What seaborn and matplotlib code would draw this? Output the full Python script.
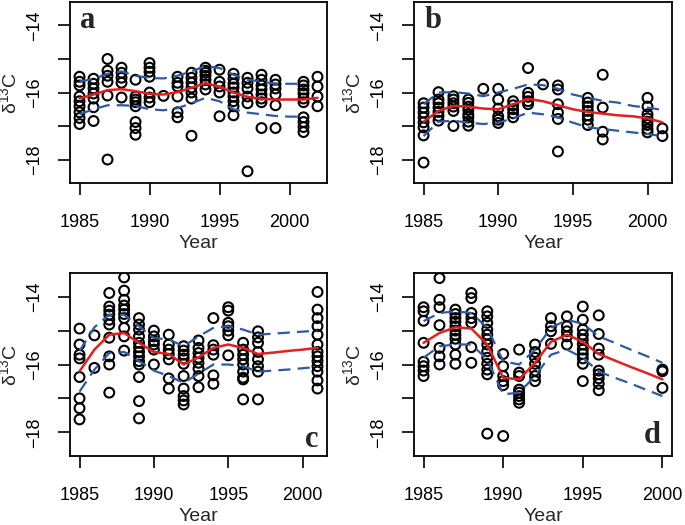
import matplotlib
matplotlib.use("Agg")
import matplotlib.pyplot as plt
import seaborn as sns
import pandas as pd

# ---- panel a : d13C readings per sampling year ----
a_years = [1985, 1986, 1987, 1988, 1989, 1990, 1991, 1992, 1993, 1994,
           1995, 1996, 1997, 1998, 1999, 2001, 2002]
a_vals = [
    [-15.53, -15.68, -15.79, -16.12, -16.26, -16.41, -16.59, -16.76, -16.94],
    [-15.59, -15.74, -15.88, -16.03, -16.18, -16.44, -16.85],
    [-15.0, -15.35, -15.5, -15.68, -16.09, -18.0],
    [-15.26, -15.41, -15.56, -15.71, -16.15],
    [-15.62, -16.12, -16.21, -16.29, -16.41, -16.88, -17.06, -17.26],
    [-15.12, -15.26, -15.38, -15.53, -16.0, -16.15, -16.29],
    [-16.1],
    [-15.53, -15.71, -15.82, -16.12, -16.59, -16.74],
    [-15.41, -15.56, -15.71, -15.85, -16.0, -16.18, -17.29],
    [-15.26, -15.35, -15.41, -15.5, -15.62, -15.76, -15.91],
    [-15.32, -15.68, -15.82, -16.0, -16.71],
    [-15.44, -15.59, -15.74, -15.85, -16.0, -16.12, -16.26, -16.41, -16.68],
    [-15.56, -15.71, -15.88, -16.12, -16.32, -18.35],
    [-15.47, -15.62, -15.79, -15.91, -16.06, -16.18, -16.29, -17.06],
    [-15.62, -15.76, -15.88, -16.06, -16.38, -17.06],
    [-15.68, -15.79, -15.91, -16.03, -16.18, -16.29, -16.74, -16.88, -17.03, -17.18],
    [-15.53, -15.82, -16.12, -16.41],
]
a_fit_years = list(range(1985, 2003))
a_fit = [-16.18, -16.06, -15.93, -15.9, -15.96, -16.04, -16.06, -15.99, -15.86,
         -15.72, -15.83, -16.0, -16.13, -16.19, -16.21, -16.21, -16.21, -16.16]
a_band_years = list(range(1985, 2002))
a_upper = [-15.67, -15.6, -15.44, -15.37, -15.5, -15.57, -15.58, -15.5, -15.37,
           -15.21, -15.27, -15.47, -15.62, -15.67, -15.74, -15.74, -15.74]
a_lower = [-16.65, -16.5, -16.38, -16.38, -16.4, -16.5, -16.53, -16.47, -16.32,
           -16.16, -16.26, -16.5, -16.6, -16.65, -16.7, -16.72, -16.72]

# ---- panel b ----
b_years = [1985, 1986, 1987, 1988, 1989, 1990, 1991, 1992, 1993, 1994,
           1996, 1997, 2000, 2001]
b_vals = [
    [-16.32, -16.45, -16.6, -16.74, -16.89, -17.04, -17.28, -18.09],
    [-15.99, -16.21, -16.32, -16.45, -16.58, -16.7, -16.84],
    [-16.11, -16.21, -16.32, -16.42, -16.55, -17.0],
    [-16.21, -16.31, -16.42, -16.52, -16.65, -16.74, -16.87, -16.99],
    [-15.89],
    [-15.89, -16.21, -16.48, -16.71, -16.81, -16.91],
    [-16.26, -16.38, -16.5, -16.62, -16.74],
    [-15.27, -16.01, -16.13, -16.26, -16.35],
    [-15.76],
    [-15.79, -15.91, -16.35, -16.6, -16.79, -17.76],
    [-16.16, -16.3, -16.42, -16.55, -16.68, -16.81, -16.97],
    [-15.47, -16.45, -17.17, -17.4],
    [-16.16, -16.42, -16.65, -16.77, -16.87, -16.97, -17.09, -17.19],
    [-17.07, -17.3],
]
b_fit_years = list(range(1985, 2002))
b_fit = [-16.87, -16.55, -16.4, -16.42, -16.48, -16.5, -16.35, -16.19, -16.26,
         -16.38, -16.5, -16.58, -16.63, -16.68, -16.71, -16.77, -16.89]
b_upper = [-16.35, -16.0, -15.99, -16.03, -16.11, -16.0, -15.89, -15.76, -15.78,
           -15.89, -16.06, -16.16, -16.25, -16.3, -16.4, -16.45, -16.52]
b_lower = [-17.3, -16.87, -16.84, -16.9, -16.94, -16.9, -16.77, -16.6, -16.65,
           -16.74, -16.9, -17.04, -17.09, -17.14, -17.19, -17.24, -17.3]

# ---- panel c ----
c_years = [1985, 1986, 1987, 1988, 1989, 1990, 1991, 1992, 1993, 1994,
           1995, 1996, 1997, 2001]
c_vals = [
    [-14.94, -15.41, -15.71, -15.82, -16.37, -17.0, -17.29, -17.62],
    [-15.14, -16.1],
    [-13.89, -14.29, -14.41, -14.53, -14.68, -14.82, -15.21, -15.76, -16.0, -16.83],
    [-13.43, -13.82, -14.09, -14.26, -14.38, -14.51, -14.63, -14.92, -15.17, -15.59],
    [-14.63, -14.82, -14.97, -15.17, -15.36, -15.49, -15.63, -15.76, -15.9, -16.0,
     -16.37, -17.08, -17.59],
    [-15.0, -15.17, -15.31, -15.41, -15.56, -16.0],
    [-15.12, -15.41, -15.56, -15.69, -15.85, -16.41, -16.71],
    [-15.46, -15.59, -15.71, -15.82, -15.98, -16.34, -16.71, -16.93, -17.06, -17.18],
    [-15.29, -15.51, -15.66, -15.8, -15.95, -16.12, -16.34, -16.67],
    [-14.63, -15.43, -15.56, -15.71, -16.32, -16.57],
    [-14.31, -14.41, -14.77, -14.87, -15.0, -15.14, -15.73],
    [-15.36, -15.56, -15.71, -15.85, -16.0, -16.21, -16.39, -16.44, -17.03],
    [-15.02, -15.2, -15.36, -15.63, -15.85, -16.05, -16.21, -17.03],
    [-13.86, -14.38, -14.63, -14.87, -15.12, -15.41, -15.63, -15.76, -15.9, -16.05,
     -16.21, -16.47, -16.71],
]
c_fit_years = list(range(1985, 2002))
c_fit = [-16.2, -15.56, -15.12, -15.07, -15.36, -15.63, -15.69, -16.0, -15.79,
         -15.51, -15.41, -15.51, -15.69, -15.65, -15.6, -15.56, -15.51]
c_upper = [-15.6, -14.9, -14.53, -14.53, -14.87, -15.22, -15.26, -15.46, -15.17,
           -14.92, -14.87, -14.97, -15.12, -15.09, -15.06, -15.03, -15.0]
c_lower = [-16.8, -16.15, -15.66, -15.63, -15.9, -16.18, -16.34, -16.54, -16.27,
           -16.0, -16.0, -16.05, -16.21, -16.18, -16.15, -16.11, -16.07]

# ---- panel d ----
d_years = [1985, 1986, 1987, 1988, 1989, 1990, 1991, 1992, 1993, 1994,
           1995, 1996, 2000]
d_vals = [
    [-14.31, -14.43, -14.71, -15.36, -15.92, -16.05, -16.18, -16.34],
    [-13.45, -14.09, -14.31, -14.84, -15.51, -15.76, -16.0],
    [-14.38, -14.51, -14.63, -14.74, -14.87, -15.0, -15.12, -15.24, -15.41, -15.71, -15.98],
    [-13.89, -14.04, -14.48, -14.63, -14.77, -15.49, -15.95],
    [-14.43, -14.58, -14.77, -14.97, -15.12, -15.26, -15.41, -15.61, -15.8, -15.98,
     -16.15, -16.29, -18.04],
    [-15.69, -16.05, -16.34, -16.49, -16.61, -18.11],
    [-15.56, -16.24, -16.34, -16.74, -16.83, -16.93, -17.03, -17.13],
    [-15.41, -15.63, -15.8, -15.98, -16.18, -16.34, -16.49],
    [-14.63, -14.87, -15.02, -15.39],
    [-14.58, -14.87, -15.02, -15.17, -15.41],
    [-14.29, -14.68, -14.97, -15.12, -15.26, -15.41, -15.56, -15.69, -15.82, -15.98, -16.49],
    [-14.55, -15.1, -15.53, -15.71, -16.18, -16.29, -16.41, -16.57, -16.76],
    [-16.15, -16.2, -16.69],
]
d_fit_years = list(range(1985, 2001))
d_fit = [-15.36, -15.07, -14.9, -14.94, -15.41, -16.39, -16.44, -15.95, -15.33,
         -15.12, -15.33, -15.69, -15.88, -16.07, -16.25, -16.44]
d_upper = [-14.72, -14.48, -14.43, -14.48, -14.92, -15.9, -16.0, -15.56, -14.92,
           -14.68, -14.8, -15.17, -15.36, -15.56, -15.75, -15.95]
d_lower = [-15.8, -15.46, -15.41, -15.41, -15.85, -16.88, -16.83, -16.34, -15.71,
           -15.56, -15.8, -16.21, -16.39, -16.56, -16.75, -16.93]

x_ticks = [1985, 1990, 1995, 2000]
y_ticks = [-18, -17, -16, -15, -14]
y_tick_labels = ["\u221218", "", "\u221216", "", "\u221214"]

RED = "#e3201e"
BLUE = "#2c5ba6"

sns.set_theme(style="ticks")
plt.rcParams["font.family"] = ["Liberation Sans", "DejaVu Sans"]
plt.rcParams["mathtext.fontset"] = "custom"
plt.rcParams["mathtext.rm"] = "Liberation Sans"
plt.rcParams["mathtext.default"] = "regular"


def to_frame(years, vals):
    rows = [(y, v) for y, vs in zip(years, vals) for v in vs]
    return pd.DataFrame(rows, columns=["year", "d13c"])


def draw_panel(ax, years, vals, fit_years, fit, band_years, upper, lower,
               letter, letter_xy):
    df = to_frame(years, vals)
    sns.scatterplot(data=df, x="year", y="d13c", ax=ax, marker="o", s=50,
                    facecolor="none", edgecolor="black", linewidth=1.5,
                    zorder=2)
    dash = (0, (5.5, 3.2))
    sns.lineplot(x=band_years, y=upper, ax=ax, color=BLUE, lw=1.6,
                 linestyle=dash, zorder=3)
    sns.lineplot(x=band_years, y=lower, ax=ax, color=BLUE, lw=1.6,
                 linestyle=dash, zorder=3)
    sns.lineplot(x=fit_years, y=fit, ax=ax, color=RED, lw=1.8, zorder=4)

    x0, x1 = min(years), max(years)
    pad = 0.04 * (x1 - x0)
    ax.set_xlim(x0 - pad, x1 + pad)
    ax.set_ylim(-18.7, -13.3)
    ax.set_xticks(x_ticks)
    ax.set_yticks(y_ticks, labels=y_tick_labels)
    for lab in ax.get_yticklabels():
        lab.set_rotation(90)
        lab.set_va("center")
    ax.tick_params(direction="out", length=8.5, width=1.2,
                   labelsize=13, colors="black")
    ax.tick_params(axis="x", pad=14)
    ax.tick_params(axis="y", pad=11)
    for sp in ax.spines.values():
        sp.set_visible(True)
        sp.set_linewidth(1.3)
        sp.set_color("black")
    ax.set_xlabel("Year", fontsize=14, labelpad=3)
    ax.set_ylabel("δ$^{13}$C", fontsize=14, labelpad=4)
    ax.text(letter_xy[0], letter_xy[1], letter, transform=ax.transAxes,
            family="Liberation Serif", fontweight="bold", fontsize=22,
            ha="center", va="center")


fig = plt.figure(figsize=(6.85, 5.25), dpi=100)
ax_a = fig.add_axes([0.1022, 0.6514, 0.3752, 0.3448])
ax_b = fig.add_axes([0.6044, 0.6514, 0.3766, 0.3448])
ax_c = fig.add_axes([0.1022, 0.1314, 0.3752, 0.3486])
ax_d = fig.add_axes([0.6044, 0.1314, 0.3766, 0.3486])

draw_panel(ax_a, a_years, a_vals, a_fit_years, a_fit, a_band_years, a_upper,
           a_lower, "a", (0.07, 0.90))
draw_panel(ax_b, b_years, b_vals, b_fit_years, b_fit, b_fit_years, b_upper,
           b_lower, "b", (0.075, 0.90))
draw_panel(ax_c, c_years, c_vals, c_fit_years, c_fit, c_fit_years, c_upper,
           c_lower, "c", (0.94, 0.09))
draw_panel(ax_d, d_years, d_vals, d_fit_years, d_fit, d_fit_years, d_upper,
           d_lower, "d", (0.925, 0.11))

fig.savefig("out.png", dpi=100)
